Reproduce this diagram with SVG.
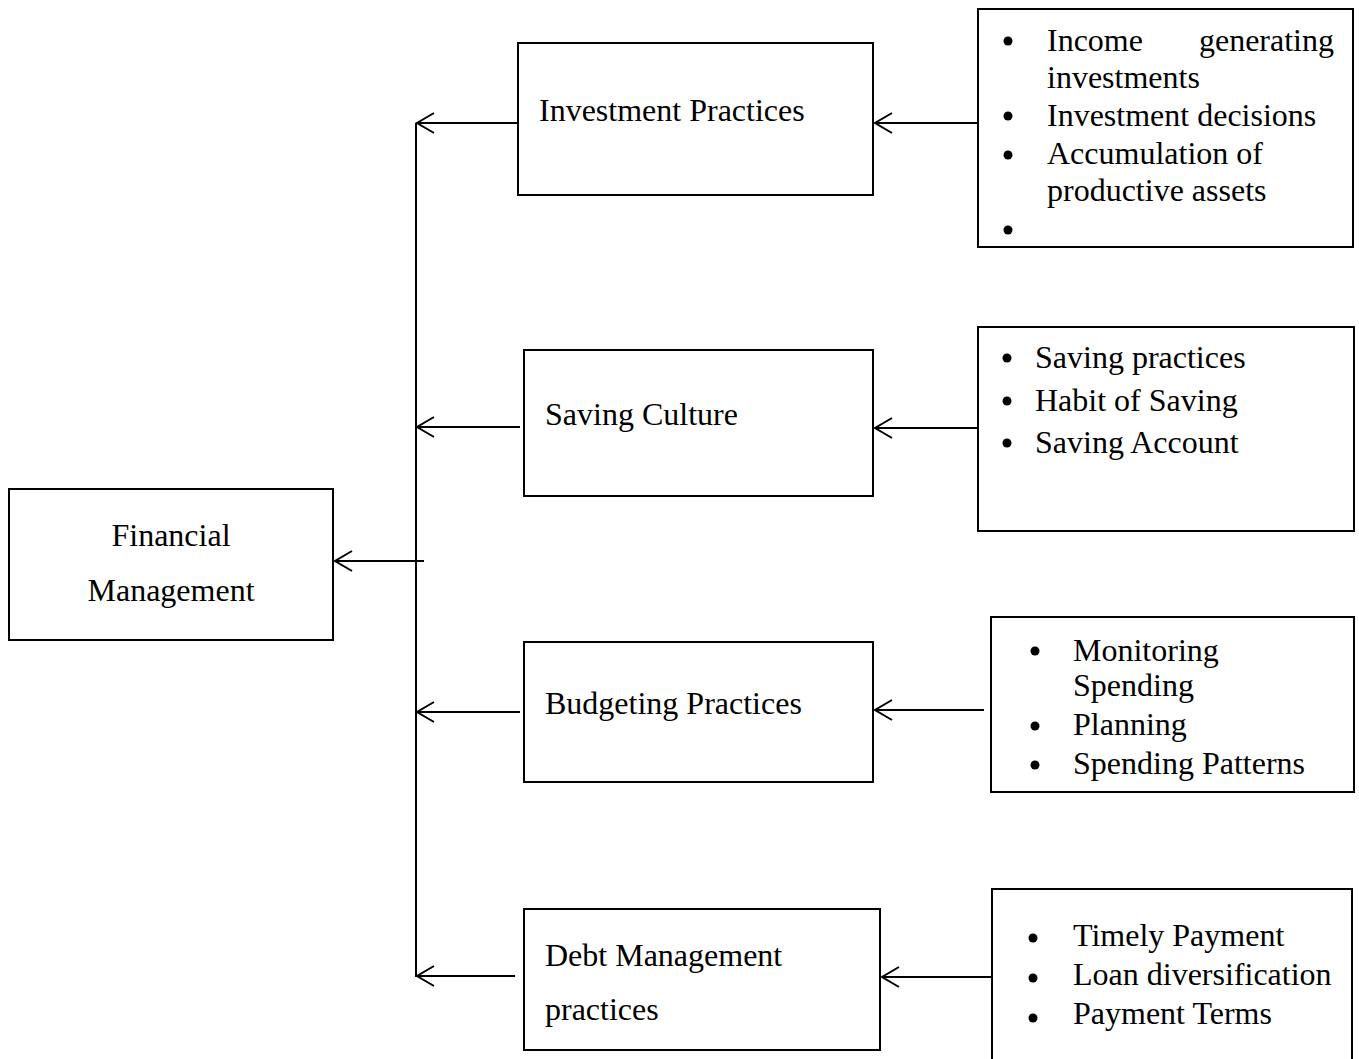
<svg xmlns="http://www.w3.org/2000/svg" width="1359" height="1059" viewBox="0 0 1359 1059">
<style>
.box{fill:#fff;stroke:#000;stroke-width:2}
.t{font-family:"Liberation Serif","Times New Roman",serif;font-size:32px;fill:#000}
.c{stroke:#000;stroke-width:2;fill:none}
.b{fill:#000}
</style>
<defs>
<marker id="arr" markerUnits="userSpaceOnUse" markerWidth="40" markerHeight="40" refX="0" refY="0" orient="auto" overflow="visible">
<path d="M-17,-10 L0,0 L-17,10" fill="none" stroke="#000" stroke-width="2"/>
</marker>
</defs>
<rect width="1359" height="1059" fill="#fff"/>
<g id="connectors">
<line class="c" x1="416" y1="123" x2="416" y2="977"/>
<line class="c" x1="424" y1="561" x2="335" y2="561" marker-end="url(#arr)"/>
<line class="c" x1="518" y1="123" x2="417" y2="123" marker-end="url(#arr)"/>
<line class="c" x1="520" y1="427" x2="417" y2="427" marker-end="url(#arr)"/>
<line class="c" x1="520" y1="712" x2="417" y2="712" marker-end="url(#arr)"/>
<line class="c" x1="515" y1="976" x2="417" y2="976" marker-end="url(#arr)"/>
<line class="c" x1="978" y1="123" x2="875" y2="123" marker-end="url(#arr)"/>
<line class="c" x1="978" y1="428" x2="875" y2="428" marker-end="url(#arr)"/>
<line class="c" x1="984" y1="710" x2="875" y2="710" marker-end="url(#arr)"/>
<line class="c" x1="991" y1="977" x2="882" y2="977" marker-end="url(#arr)"/>
</g>
<g id="financial-management">
<rect class="box" x="9" y="489" width="324" height="151"/>
<text class="t" x="171" y="546" text-anchor="middle">Financial</text>
<text class="t" x="171" y="601" text-anchor="middle">Management</text>
</g>
<g id="investment-practices">
<rect class="box" x="518" y="43" width="355" height="152"/>
<text class="t" x="539" y="121">Investment Practices</text>
</g>
<g id="saving-culture">
<rect class="box" x="524" y="350" width="349" height="146"/>
<text class="t" x="545" y="425">Saving Culture</text>
</g>
<g id="budgeting-practices">
<rect class="box" x="524" y="642" width="349" height="140"/>
<text class="t" x="545" y="714">Budgeting Practices</text>
</g>
<g id="debt-management">
<rect class="box" x="524" y="909" width="356" height="141"/>
<text class="t" x="545" y="966">Debt Management</text>
<text class="t" x="545" y="1020">practices</text>
</g>
<g id="investment-items">
<rect class="box" x="978" y="9" width="375" height="238"/>
<circle class="b" cx="1008" cy="41" r="4.5"/>
<text class="t"><tspan x="1047" y="51">Income</tspan><tspan x="1334" y="51" text-anchor="end">generating</tspan></text>
<text class="t" x="1047" y="88">investments</text>
<circle class="b" cx="1008" cy="116" r="4.5"/>
<text class="t" x="1047" y="126">Investment decisions</text>
<circle class="b" cx="1008" cy="155" r="4.5"/>
<text class="t" x="1047" y="164">Accumulation of</text>
<text class="t" x="1047" y="201">productive assets</text>
<circle class="b" cx="1008" cy="230" r="4.5"/>
</g>
<g id="saving-items">
<rect class="box" x="978" y="327" width="376" height="204"/>
<circle class="b" cx="1007" cy="358" r="4.5"/>
<text class="t" x="1035" y="368">Saving practices</text>
<circle class="b" cx="1007" cy="401" r="4.5"/>
<text class="t" x="1035" y="411">Habit of Saving</text>
<circle class="b" cx="1007" cy="443" r="4.5"/>
<text class="t" x="1035" y="453">Saving Account</text>
</g>
<g id="budgeting-items">
<rect class="box" x="991" y="617" width="363" height="175"/>
<circle class="b" cx="1035" cy="651" r="4.5"/>
<text class="t" x="1073" y="661">Monitoring</text>
<text class="t" x="1073" y="696">Spending</text>
<circle class="b" cx="1035" cy="726" r="4.5"/>
<text class="t" x="1073" y="735">Planning</text>
<circle class="b" cx="1035" cy="765" r="4.5"/>
<text class="t" x="1073" y="774">Spending Patterns</text>
</g>
<g id="debt-items">
<path class="c" d="M992,1060 L992,889 L1352,889 L1352,1060"/>
<circle class="b" cx="1033" cy="938" r="4.5"/>
<text class="t" x="1073" y="946">Timely Payment</text>
<circle class="b" cx="1033" cy="978" r="4.5"/>
<text class="t" x="1073" y="985">Loan diversification</text>
<circle class="b" cx="1033" cy="1018" r="4.5"/>
<text class="t" x="1073" y="1024">Payment Terms</text>
</g>
</svg>
